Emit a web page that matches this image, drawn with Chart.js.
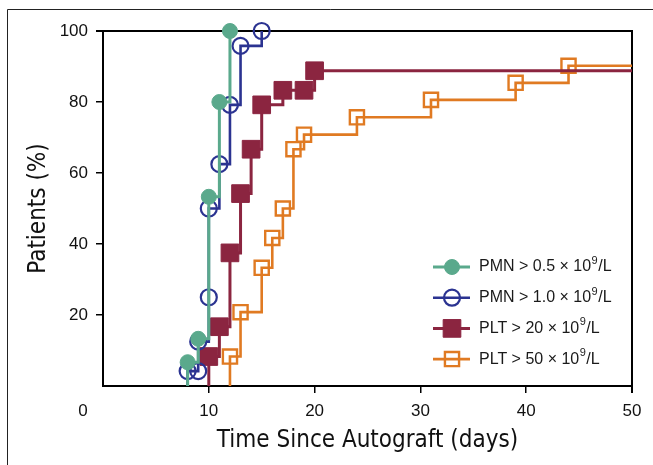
<!DOCTYPE html>
<html><head><meta charset="utf-8">
<script src="https://cdn.jsdelivr.net/npm/chart.js@4.4.0/dist/chart.umd.min.js"></script>
<style>
html,body{margin:0;padding:0;background:#fff;}
#wrap{position:relative;width:653px;height:465px;overflow:hidden;}
canvas{display:block;}
</style></head><body>
<div id="wrap"><canvas id="c" width="653" height="465"></canvas></div>
<script>
// ---- data ----
const xTicks = [0, 10, 20, 30, 40, 50];
const yTicks = [0, 20, 40, 60, 80, 100];
const seriesLabels = ['PMN > 0.5 × 10', 'PMN > 1.0 × 10', 'PLT > 20 × 10', 'PLT > 50 × 10'];
const labelSup = '9';
const labelTail = '/L';

const pmn05Days = [8, 8, 9, 10, 11, 12];
const pmn05Pct  = [0, 6.7, 13.3, 53.3, 80, 100];

const pmn10Days = [8, 8, 9, 9, 10, 10, 11, 12, 13, 15];
const pmn10Pct  = [0, 4.2, 4.2, 12.5, 25, 50, 62.5, 79.2, 95.8, 100];

const plt20Days = [10, 10, 11, 12, 13, 14, 15, 17, 19, 20, 50];
const plt20Pct  = [0, 8.3, 16.7, 37.5, 54.2, 66.7, 79.2, 83.3, 83.3, 88.8, 88.8];

const plt50Days = [12, 12, 13, 15, 16, 17, 18, 19, 24, 31, 39, 44, 50];
const plt50Pct  = [0, 8.3, 20.8, 33.3, 41.7, 50, 66.7, 70.8, 75.7, 80.6, 85.4, 90.2, 90.2];

// ---- styles ----
const GREEN = '#5aa98c', BLUE = '#2b3391', RED = '#8b2540', ORANGE = '#e07a22';
const TICKFONT = {family: "'Liberation Sans', Arial, sans-serif", size: 17};
const TITLEFONT = {family: "'Liberation Sans Narrow', 'DejaVu Sans Condensed', 'Roboto Condensed', 'Liberation Sans', sans-serif", size: 24};

function pts(days, pct) { return days.map((d, i) => ({x: d, y: pct[i]})); }
function radii(n, r, hideFirst, hideLast) {
  return Array.from({length: n}, (_, i) => ((hideFirst && i === 0) || (hideLast && i === n - 1)) ? 0 : r);
}

const datasets = [
  {label: seriesLabels[0], data: pts(pmn05Days, pmn05Pct), borderColor: GREEN, backgroundColor: GREEN,
   borderWidth: 3, pointStyle: 'circle', pointRadius: radii(pmn05Days.length, 7.5, true, false),
   pointBorderWidth: 1, pointBackgroundColor: GREEN, pointBorderColor: GREEN},
  {label: seriesLabels[1], data: pts(pmn10Days, pmn10Pct), borderColor: BLUE, backgroundColor: 'rgba(0,0,0,0)',
   borderWidth: 2.6, pointStyle: 'circle', pointRadius: radii(pmn10Days.length, 8, true, false),
   pointBorderWidth: 2.2, pointBackgroundColor: 'rgba(0,0,0,0)', pointBorderColor: BLUE},
  {label: seriesLabels[2], data: pts(plt20Days, plt20Pct), borderColor: RED, backgroundColor: RED,
   borderWidth: 3, pointStyle: 'rect', pointRadius: radii(plt20Days.length, 12.5, true, true),
   pointBorderWidth: 1, pointBackgroundColor: RED, pointBorderColor: RED},
  {label: seriesLabels[3], data: pts(plt50Days, plt50Pct), borderColor: ORANGE, backgroundColor: 'rgba(0,0,0,0)',
   borderWidth: 2.6, pointStyle: 'rect', pointRadius: radii(plt50Days.length, 10, true, true),
   pointBorderWidth: 2.4, pointBackgroundColor: 'rgba(0,0,0,0)', pointBorderColor: ORANGE}
].map(d => Object.assign(d, {stepped: true, fill: false, clip: false, pointHoverRadius: 0, tension: 0}));

const framePlugin = {
  id: 'frame',
  beforeDatasetsDraw(chart) {
    const {ctx, chartArea: a} = chart;
    ctx.save();
    ctx.strokeStyle = '#000';
    ctx.lineWidth = 2;
    ctx.beginPath();
    ctx.moveTo(a.left - 7, a.top);
    ctx.lineTo(a.right, a.top);
    ctx.lineTo(a.right, a.bottom + 7);
    ctx.stroke();
    ctx.restore();
  },
  afterDraw(chart) {
    const {ctx, chartArea: a} = chart;
    ctx.save();
    // outer figure frame
    ctx.strokeStyle = '#222';
    ctx.lineWidth = 1;
    ctx.beginPath();
    ctx.moveTo(7.5, 465);
    ctx.lineTo(7.5, 9.5);
    ctx.lineTo(653, 9.5);
    ctx.stroke();
    // shared origin label
    ctx.fillStyle = '#111';
    ctx.font = `${TICKFONT.size}px ${TICKFONT.family}`;
    ctx.textAlign = 'center';
    ctx.textBaseline = 'middle';
    ctx.fillText(String(xTicks[0]), a.left - 20, a.bottom + 25);
    // legend
    const x0 = 433, x1 = 470, xm = 452, xt = 479;
    const y0 = 267, dy = 30.7;
    chart.data.datasets.forEach((ds, i) => {
      const y = y0 + i * dy;
      ctx.strokeStyle = ds.borderColor;
      ctx.lineWidth = ds.borderWidth;
      ctx.beginPath();
      ctx.moveTo(x0, y); ctx.lineTo(x1, y); ctx.stroke();
      ctx.fillStyle = ds.pointBackgroundColor;
      ctx.strokeStyle = ds.pointBorderColor;
      ctx.lineWidth = ds.pointBorderWidth;
      const r = Math.max(...ds.pointRadius);
      Chart.helpers.drawPoint(ctx, {pointStyle: ds.pointStyle, radius: r, borderWidth: ds.pointBorderWidth, rotation: 0}, xm, y);
      ctx.fillStyle = '#1a1a1a';
      ctx.textAlign = 'left';
      ctx.textBaseline = 'middle';
      ctx.font = "16px 'Liberation Sans', Arial, sans-serif";
      ctx.fillText(ds.label, xt, y);
      let w = ctx.measureText(ds.label).width;
      ctx.font = "11px 'Liberation Sans', Arial, sans-serif";
      ctx.fillText(labelSup, xt + w + 0.5, y - 6);
      const ws = ctx.measureText(labelSup).width;
      ctx.font = "16px 'Liberation Sans', Arial, sans-serif";
      ctx.fillText(labelTail, xt + w + ws + 1, y);
    });
    ctx.restore();
  }
};

const hideZero = c => (c.tick && c.tick.value === 0) ? 'rgba(0,0,0,0)' : '#000';

new Chart(document.getElementById('c'), {
  type: 'line',
  data: {datasets},
  plugins: [framePlugin],
  options: {
    responsive: false,
    animation: false,
    events: [],
    layout: {padding: {left: 0, top: 31, right: 21, bottom: 0}},
    plugins: {legend: {display: false}, tooltip: {enabled: false}},
    scales: {
      x: {
        type: 'linear', min: xTicks[0], max: xTicks[xTicks.length - 1],
        afterBuildTicks: s => { s.ticks = xTicks.map(v => ({value: v})); },
        ticks: {font: TICKFONT, color: '#111', padding: 8, maxRotation: 0, autoSkip: false,
                callback: v => v === 0 ? '' : String(v)},
        grid: {drawOnChartArea: false, tickLength: 7, lineWidth: 1.5, color: '#000', tickColor: hideZero},
        border: {color: '#000', width: 2},
        title: {display: true, text: 'Time Since Autograft (days)', font: TITLEFONT, color: '#111',
                padding: {top: 0, bottom: 10}},
        afterFit: s => { s.height = 79; s.paddingLeft = 0; s.paddingRight = 0; }
      },
      y: {
        type: 'linear', min: yTicks[0], max: yTicks[yTicks.length - 1],
        afterBuildTicks: s => { s.ticks = yTicks.map(v => ({value: v})); },
        ticks: {font: TICKFONT, color: '#111', padding: 8, autoSkip: false,
                callback: v => v === 0 ? '' : String(v)},
        grid: {drawOnChartArea: false, tickLength: 7, lineWidth: 1.5, color: '#000', tickColor: hideZero},
        border: {color: '#000', width: 2},
        title: {display: true, text: 'Patients (%)', font: TITLEFONT, color: '#111',
                padding: {top: 24, bottom: 0}},
        afterFit: s => { s.width = 103; s.paddingTop = 0; s.paddingBottom = 0; }
      }
    }
  }
});
</script>
</body></html>
